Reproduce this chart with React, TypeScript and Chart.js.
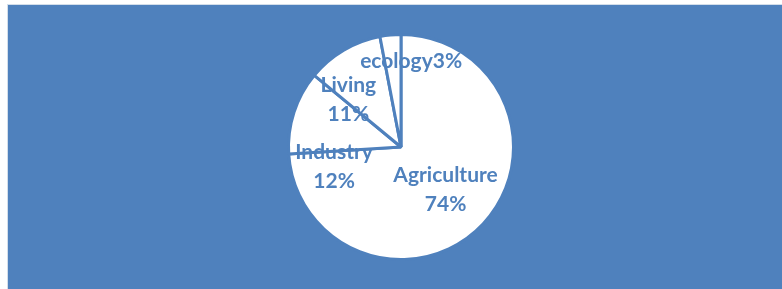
import React, { useEffect, useRef } from "react";
import { Chart, registerables } from "chart.js";

Chart.register(...registerables);

const categories = ["Agriculture", "Industry", "Living", "ecology"];
const shares = [74, 12, 11, 3];
const labelLines = [["Agriculture", "74%"], ["Industry", "12%"], ["Living", "11%"], ["ecology3%"]];

const BLUE = "#4F81BD";
// label anchor offsets relative to pie centre, as fraction of radius
const labelAnchors = [
  [0.396, 0.383],
  [-0.595, 0.171],
  [-0.468, -0.419],
  [0.09, -0.766],
];

const bgPlugin = {
  id: "bg",
  beforeDraw(chart: any) {
    const { ctx, width, height } = chart;
    ctx.save();
    ctx.fillStyle = BLUE;
    ctx.fillRect(0, 0, width, height);
    ctx.restore();
  },
};

const labelPlugin = {
  id: "sliceLabels",
  afterDatasetsDraw(chart: any) {
    const { ctx } = chart;
    const meta = chart.getDatasetMeta(0);
    ctx.save();
    ctx.fillStyle = BLUE;
    ctx.font = "bold 21px Lato";
    ctx.textAlign = "center";
    ctx.textBaseline = "middle";
    meta.data.forEach((arc: any, i: number) => {
      const r = arc.outerRadius;
      const cx = arc.x + labelAnchors[i][0] * r;
      const cy = arc.y + labelAnchors[i][1] * r;
      const lines = labelLines[i];
      const lh = 29;
      const top = cy - ((lines.length - 1) * lh) / 2;
      lines.forEach((t, j) => ctx.fillText(t, cx, top + j * lh));
    });
    ctx.restore();
  },
};

export default function App() {
  const ref = useRef<HTMLCanvasElement>(null);
  useEffect(() => {
    const chart = new Chart(ref.current!, {
      type: "pie",
      data: {
        labels: categories,
        datasets: [
          {
            data: shares,
            backgroundColor: "#FFFFFF",
            borderColor: BLUE,
            borderWidth: 3,
          },
        ],
      },
      options: {
        animation: false,
        responsive: false,
        layout: { padding: { top: 28, bottom: 28, left: 279, right: 267 } },
        plugins: { legend: { display: false }, tooltip: { enabled: false } },
      },
      plugins: [bgPlugin, labelPlugin],
    });
    return () => chart.destroy();
  }, []);
  return (
    <div style={{ position: "fixed", left: 0, top: 0, width: 782, height: 289, background: "#fff" }}>
      <div
        style={{
          position: "absolute",
          left: 7,
          top: 4,
          width: 775,
          height: 285,
          borderLeft: "1px solid #d3deea",
          borderTop: "1px solid #d3deea",
          boxSizing: "border-box",
        }}
      >
        <canvas ref={ref} width={774} height={284} style={{ display: "block", width: 774, height: 284 }} />
      </div>
    </div>
  );
}
